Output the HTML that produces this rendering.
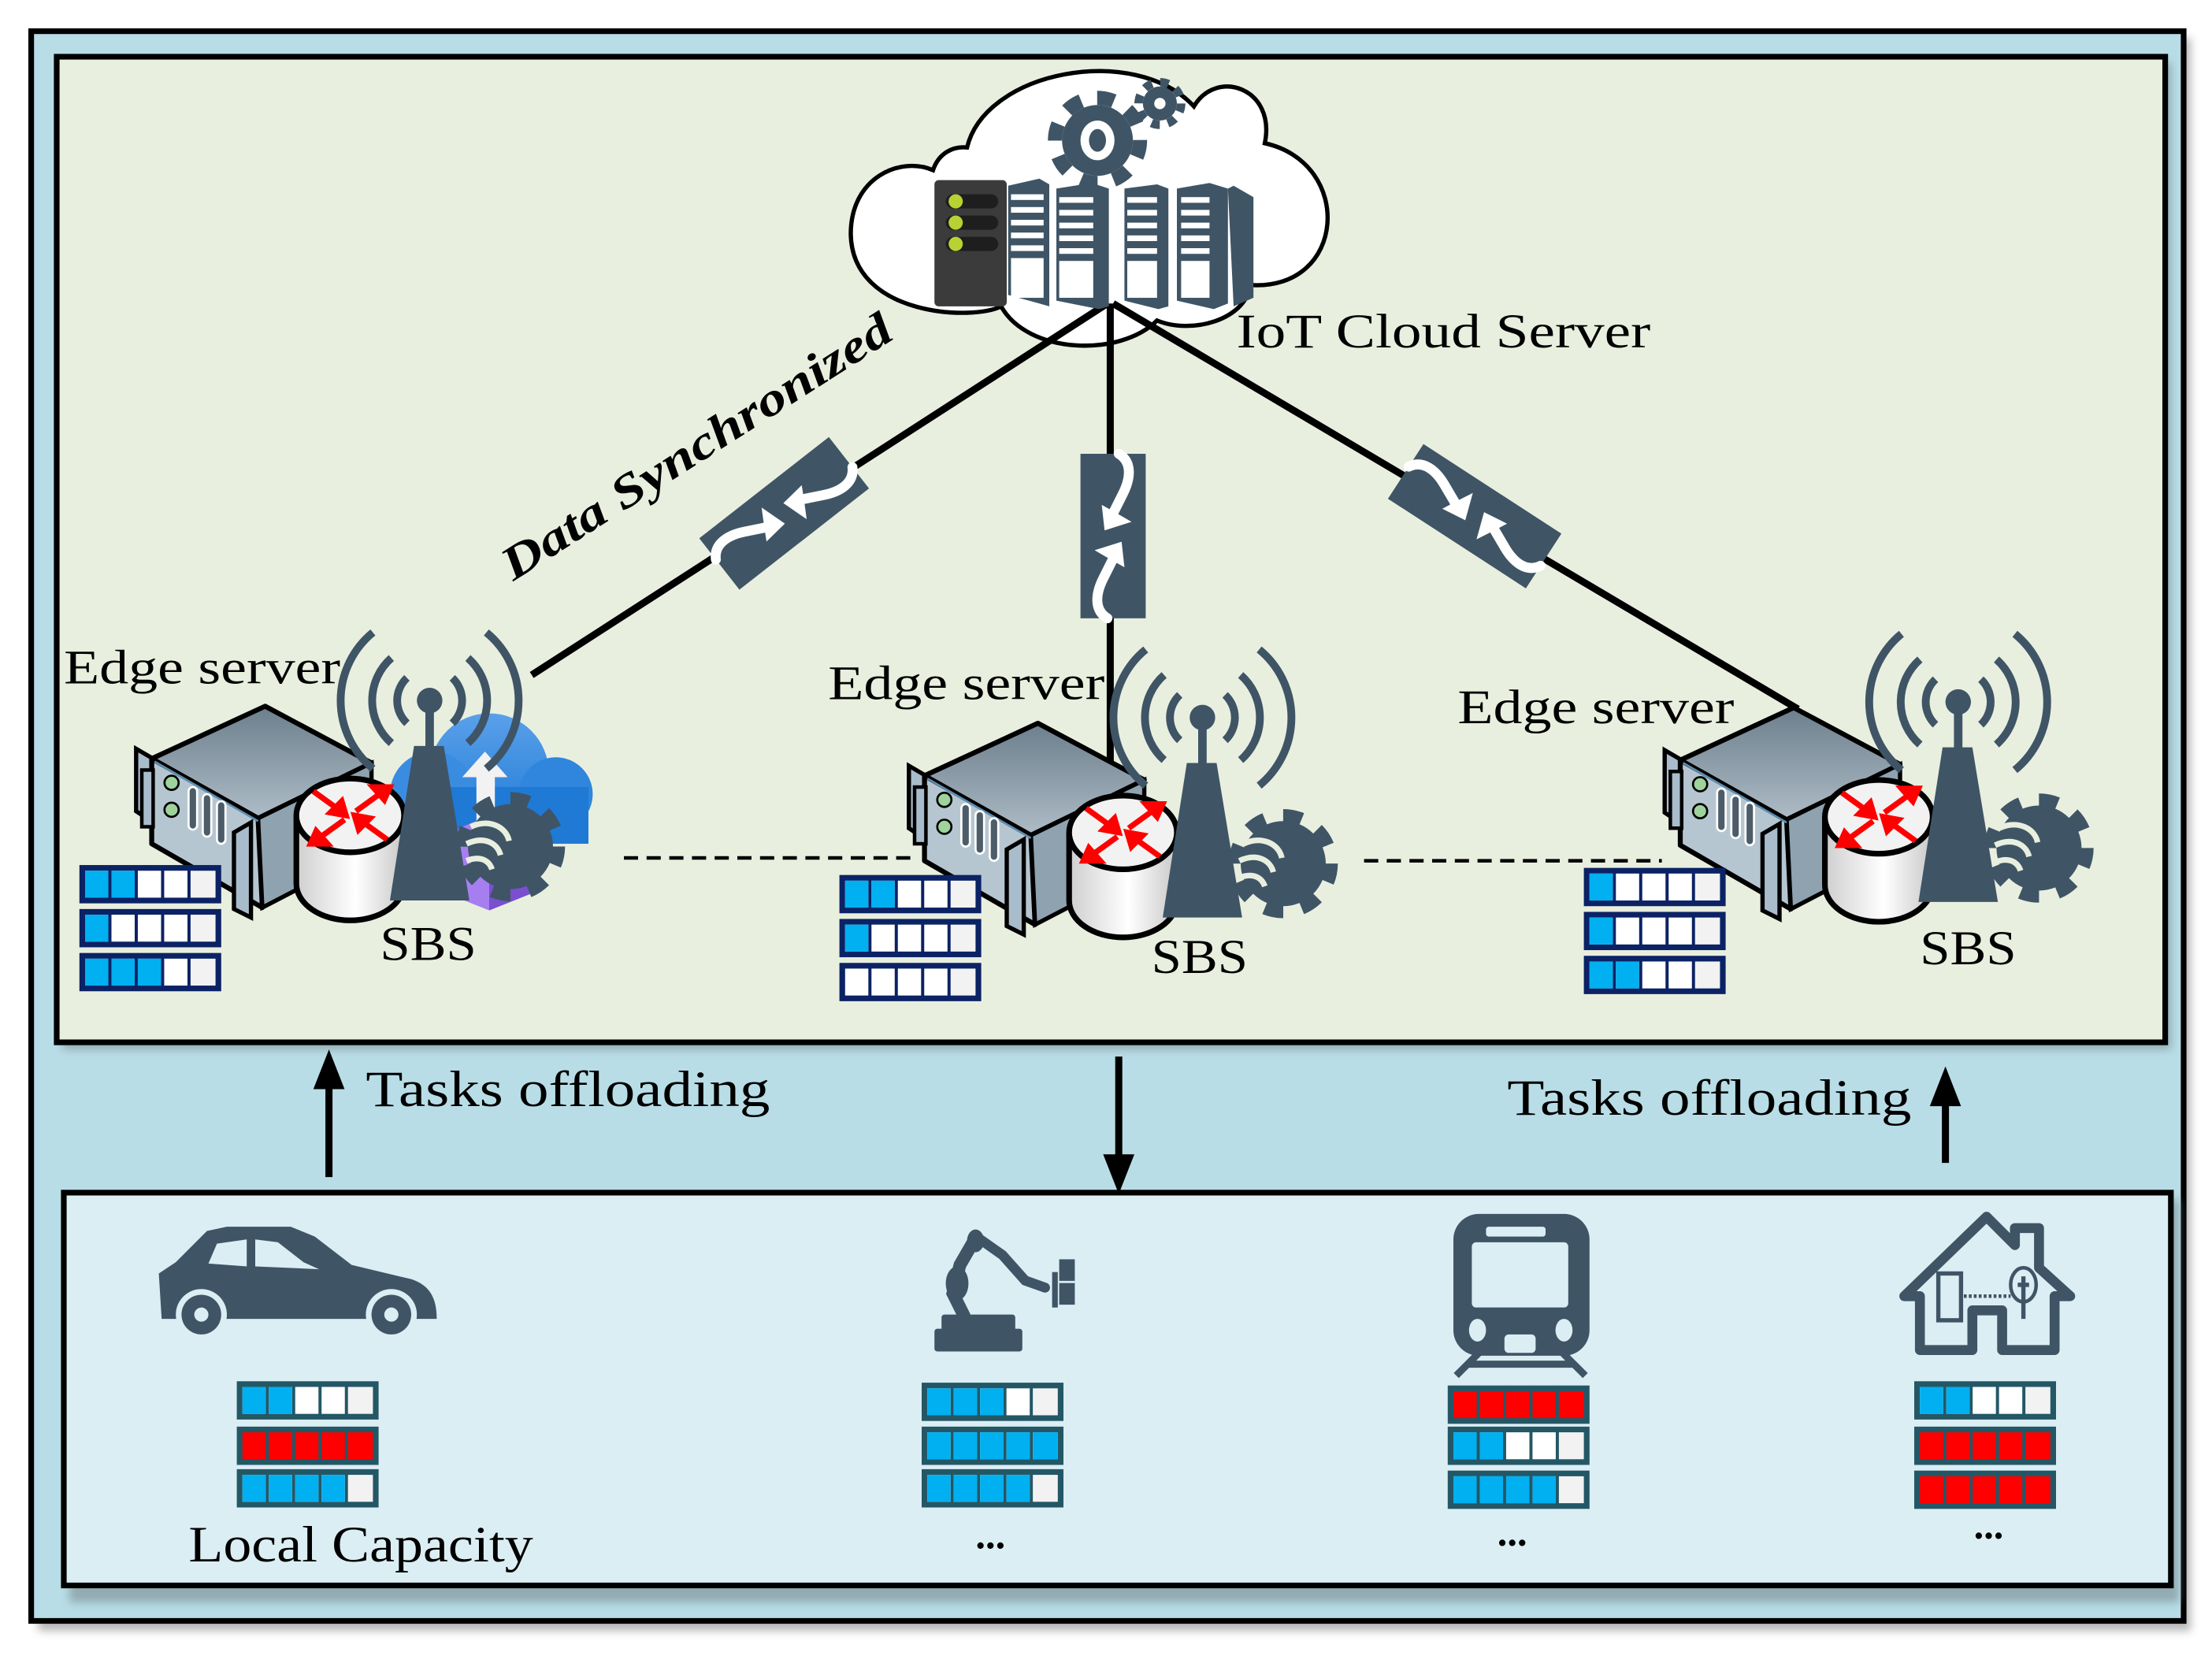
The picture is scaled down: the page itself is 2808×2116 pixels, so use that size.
<!DOCTYPE html>
<html><head><meta charset="utf-8"><style>
html,body{margin:0;padding:0;background:#fff;}
svg{display:block;}
text{font-family:"Liberation Serif",serif;fill:#000;}
</style></head><body>
<svg width="2808" height="2116" viewBox="0 0 1560 1175.5" preserveAspectRatio="none" xmlns="http://www.w3.org/2000/svg">
<defs>
<filter id="sh" x="-5%" y="-5%" width="110%" height="115%"><feGaussianBlur stdDeviation="3"/></filter>
<linearGradient id="topf" x1="0" y1="0" x2="0" y2="1"><stop offset="0" stop-color="#6c7f8c"/><stop offset="1" stop-color="#aebcc6"/></linearGradient>
<linearGradient id="cyl" x1="0" y1="0" x2="1" y2="0"><stop offset="0" stop-color="#cfcfcf"/><stop offset=".55" stop-color="#ffffff"/><stop offset="1" stop-color="#c8c8c8"/></linearGradient>
<linearGradient id="bcl" x1="0" y1="0" x2="0" y2="1"><stop offset="0" stop-color="#5aa0ea"/><stop offset="1" stop-color="#1f7ad6"/></linearGradient>
<g id="q0"><rect width="100" height="27" fill="currentColor"/><rect x="4" y="4" width="16.4" height="19" fill="#fff"/><rect x="22.6" y="4" width="16.4" height="19" fill="#fff"/><rect x="41.2" y="4" width="16.4" height="19" fill="#fff"/><rect x="59.8" y="4" width="16.4" height="19" fill="#fff"/><rect x="78.4" y="4" width="17.6" height="19" fill="#f2f2f2"/></g>
<g id="q1"><use href="#q0"/><rect x="4" y="4" width="16.4" height="19" fill="#00b0f0"/></g>
<g id="q2"><use href="#q1"/><rect x="22.6" y="4" width="16.4" height="19" fill="#00b0f0"/></g>
<g id="q3"><use href="#q2"/><rect x="41.2" y="4" width="16.4" height="19" fill="#00b0f0"/></g>
<g id="q4"><use href="#q3"/><rect x="59.8" y="4" width="16.4" height="19" fill="#00b0f0"/></g>
<g id="q5"><use href="#q4"/><rect x="78.4" y="4" width="17.6" height="19" fill="#00b0f0"/></g>
<g id="qr"><rect width="100" height="27" fill="currentColor"/><rect x="4" y="4" width="16.4" height="19" fill="#f00"/><rect x="22.6" y="4" width="16.4" height="19" fill="#f00"/><rect x="41.2" y="4" width="16.4" height="19" fill="#f00"/><rect x="59.8" y="4" width="16.4" height="19" fill="#f00"/><rect x="78.4" y="4" width="17.6" height="19" fill="#f00"/></g>

<g id="conn">
<rect x="-58" y="-23" width="116" height="46" fill="#3f5566"/>
<path d="M-58,-4 C-52,-14 -40,-12 -30,-7 L-14,1" stroke="#fff" stroke-width="7" fill="none" stroke-linecap="round"/>
<polygon points="-4,6 -22,8 -17,-1 -10,-13" fill="#fff"/>
<path d="M58,4 C52,14 40,12 30,7 L14,-1" stroke="#fff" stroke-width="7" fill="none" stroke-linecap="round"/>
<polygon points="4,-6 22,-8 17,1 10,13" fill="#fff"/>
</g>

<g id="edge">
<polygon points="-151,-47 -139,-40 -139,5 -151,-3" fill="#a9bccb" stroke="#000" stroke-width="3"/>
<polygon points="-140,-40 -60,-77 15,-37 -65,2" fill="url(#topf)" stroke="#000" stroke-width="3.5" stroke-linejoin="round"/>
<polygon points="-140,-40 -65,2 -62,65 -140,20" fill="#b6c6d1" stroke="#000" stroke-width="3.5" stroke-linejoin="round"/>
<polygon points="-65,2 15,-37 15,25 -62,65" fill="#8ea2af" stroke="#000" stroke-width="3"/>
<line x1="-138" y1="-38" x2="-65" y2="4" stroke="#5e8eb0" stroke-width="1.5"/>
<rect x="-147" y="-32" width="8" height="40" fill="#a9bccb" stroke="#000" stroke-width="2.5"/>
<circle cx="-126" cy="-23" r="5" fill="#9ed49c" stroke="#000" stroke-width="1.5"/>
<circle cx="-126" cy="-4" r="5" fill="#9ed49c" stroke="#000" stroke-width="1.5"/>
<rect x="-114" y="-20" width="6" height="30" rx="3" fill="#4c5c68" stroke="#fff" stroke-width="1.5"/>
<rect x="-104" y="-15" width="6" height="30" rx="3" fill="#4c5c68" stroke="#fff" stroke-width="1.5"/>
<rect x="-94" y="-10" width="6" height="30" rx="3" fill="#4c5c68" stroke="#fff" stroke-width="1.5"/>
<polygon points="-82,12 -70,5 -70,72 -82,66" fill="#a9bccb" stroke="#000" stroke-width="3"/>
<rect x="-38" y="0" width="76" height="48" fill="url(#cyl)"/>
<path d="M-38,0 L-38,48 A38,26 0 0 0 38,48 L38,0" fill="url(#cyl)" stroke="#000" stroke-width="4"/>
<ellipse cx="0" cy="0" rx="38" ry="26" fill="#f2f2f2" stroke="#000" stroke-width="4"/>
<g stroke="#f00" stroke-width="4" fill="#f00">
<line x1="-26" y1="-17" x2="-8" y2="-4"/><polygon points="-3,0 -14,-2 -6,-10"/>
<line x1="26" y1="17" x2="8" y2="4"/><polygon points="3,0 14,2 6,10"/>
<line x1="4" y1="-3" x2="22" y2="-16"/><polygon points="28,-20 16,-20 24,-11"/>
<line x1="-4" y1="3" x2="-22" y2="16"/><polygon points="-28,20 -16,20 -24,11"/>
</g>
<g fill="none" stroke="#3f5566" stroke-width="5.5" stroke-linecap="butt">
<path d="M72,-97 A22,22 0 0 1 72,-65"/><path d="M40,-97 A22,22 0 0 0 40,-65"/>
<path d="M83,-111 A40,40 0 0 1 83,-51"/><path d="M29,-111 A40,40 0 0 0 29,-51"/>
<path d="M96,-129 A62,62 0 0 1 96,-33"/><path d="M16,-129 A62,62 0 0 0 16,-33"/>
</g>
<rect x="53" y="-80" width="6" height="32" fill="#3f5566"/>
<circle cx="56" cy="-81" r="9" fill="#3f5566"/>
<polygon points="45,-49 66,-49 84,60 28,60" fill="#3f5566"/>
<circle cx="113" cy="22" r="30" fill="#3f5566"/>
<circle cx="113" cy="22" r="33" fill="none" stroke="#3f5566" stroke-width="11" stroke-dasharray="13 12.9"/>
<g fill="none" stroke="#e9efdf" stroke-width="4">
<path d="M85,8 C98,2 110,8 112,18"/><path d="M82,20 C95,14 104,20 106,28"/><path d="M82,32 C92,28 98,32 100,38"/>
</g>
</g>
</defs>

<rect x="27" y="27" width="1518" height="1123" fill="#888" filter="url(#sh)" opacity=".6"/>
<rect x="22" y="22" width="1518" height="1121" fill="#b8dde6" stroke="#000" stroke-width="4"/>
<rect x="44" y="44" width="1487" height="696" fill="#7a8a90" filter="url(#sh)" opacity=".6"/>
<rect x="40" y="40" width="1487" height="695" fill="#e9efdf" stroke="#000" stroke-width="4"/>
<rect x="49" y="846" width="1488" height="284" fill="#7a8a90" filter="url(#sh)" opacity=".6"/>
<rect x="45" y="841" width="1486" height="277" fill="#dbeef3" stroke="#000" stroke-width="4"/>

<g stroke="#000" stroke-width="2.5" stroke-dasharray="10 6">
<line x1="440" y1="605" x2="648" y2="605"/>
<line x1="962" y1="607" x2="1172" y2="607"/>
</g>

<path d="M682,104 C695,50 800,30 842,75 C858,48 900,62 892,101 C955,115 950,205 882,201 C878,226 840,236 816,226 C790,252 725,250 706,216 C688,226 601,224 600,165 C600,125 635,110 658,120 C662,108 672,103 682,104 Z" fill="#fff" stroke="#000" stroke-width="3"/>

<g stroke="#000" stroke-width="5">
<line x1="781" y1="214" x2="375" y2="476"/>
<line x1="783" y1="214" x2="783" y2="540"/>
<line x1="785" y1="214" x2="1268" y2="500"/>
</g>

<g fill="#3f5566">
<circle cx="774" cy="99" r="25"/>
<circle cx="774" cy="99" r="30" fill="none" stroke="#3f5566" stroke-width="10" stroke-dasharray="12 11.5"/>
<circle cx="818" cy="73" r="12"/>
<circle cx="818" cy="73" r="15" fill="none" stroke="#3f5566" stroke-width="6" stroke-dasharray="6 5.8"/>
</g>
<ellipse cx="774" cy="99" rx="12" ry="14" fill="#fff"/><ellipse cx="774" cy="99" rx="6" ry="8" fill="#3f5566"/>
<circle cx="818" cy="73" r="4" fill="#fff"/>
<g fill="#3f5566">
<polygon points="711,131 733,126 740,130 740,216 733,214 711,208"/>
<polygon points="745,133 770,129 782,133 782,216 775,218 745,212"/>
<polygon points="793,133 816,130 824,133 824,216 817,218 793,212"/>
<polygon points="830,133 853,129 866,133 866,214 856,218 830,212"/>
<polygon points="866,133 870,131 884,139 884,210 870,216"/>
</g>
<g fill="#fff">
<rect x="713" y="137" width="23" height="4"/><rect x="713" y="146" width="23" height="4"/><rect x="713" y="155" width="23" height="4"/><rect x="713" y="164" width="23" height="4"/><rect x="713" y="173" width="23" height="4"/><rect x="713" y="182" width="23" height="28"/>
<rect x="747" y="139" width="24" height="4"/><rect x="747" y="148" width="24" height="4"/><rect x="747" y="157" width="24" height="4"/><rect x="747" y="166" width="24" height="4"/><rect x="747" y="175" width="24" height="4"/><rect x="747" y="184" width="24" height="26"/>
<rect x="795" y="139" width="21" height="4"/><rect x="795" y="148" width="21" height="4"/><rect x="795" y="157" width="21" height="4"/><rect x="795" y="166" width="21" height="4"/><rect x="795" y="175" width="21" height="4"/><rect x="795" y="184" width="21" height="26"/>
<rect x="833" y="139" width="20" height="4"/><rect x="833" y="148" width="20" height="4"/><rect x="833" y="157" width="20" height="4"/><rect x="833" y="166" width="20" height="4"/><rect x="833" y="175" width="20" height="4"/><rect x="833" y="184" width="20" height="26"/>
</g>
<rect x="659" y="127" width="51" height="89" rx="3" fill="#3b3b3b"/>
<g fill="#1e1e1e"><rect x="667" y="137" width="37" height="10" rx="5"/><rect x="667" y="152" width="37" height="10" rx="5"/><rect x="667" y="167" width="37" height="10" rx="5"/></g>
<g fill="#b7d232"><ellipse cx="674" cy="142" rx="5" ry="5"/><ellipse cx="674" cy="157" rx="5" ry="5"/><ellipse cx="674" cy="172" rx="5" ry="5"/></g>

<use href="#conn" transform="translate(553,362) rotate(-38)"/>
<use href="#conn" transform="translate(785,378) rotate(90)"/>
<use href="#conn" transform="translate(1040,364) rotate(33)"/>

<g>
<circle cx="345" cy="545" r="42" fill="url(#bcl)"/>
<circle cx="392" cy="560" r="26" fill="#2f86dc"/>
<circle cx="305" cy="560" r="30" fill="#3a8ce0"/>
<rect x="300" y="555" width="115" height="40" fill="#1f7ad6"/>
<polygon points="342,530 358,548 349,548 349,590 336,590 336,548 326,548" fill="#f2f2f2"/>
<polygon points="310,590 345,575 375,588 375,630 345,642 310,628" fill="#a77ef0"/>
<polygon points="345,575 375,588 375,630 345,642" fill="#7a4fd0"/>
</g>
<use href="#edge" transform="translate(247,575)"/>
<use href="#edge" transform="translate(792,587)"/>
<use href="#edge" transform="translate(1325,576)"/>

<g color="#0b2265">
<use href="#q2" x="56" y="610"/><use href="#q1" x="56" y="641"/><use href="#q3" x="56" y="672"/>
<use href="#q2" x="592" y="617"/><use href="#q1" x="592" y="648"/><use href="#q0" x="592" y="679"/>
<use href="#q1" x="1117" y="612"/><use href="#q1" x="1117" y="643"/><use href="#q2" x="1117" y="674"/>
</g>
<g color="#245766">
<use href="#q2" x="167" y="974"/><use href="#qr" x="167" y="1006"/><use href="#q4" x="167" y="1036"/>
<use href="#q3" x="650" y="975"/><use href="#q5" x="650" y="1006"/><use href="#q4" x="650" y="1036"/>
<use href="#qr" x="1021" y="977"/><use href="#q2" x="1021" y="1006"/><use href="#q4" x="1021" y="1037"/>
<use href="#q2" x="1350" y="974"/><use href="#qr" x="1350" y="1006"/><use href="#qr" x="1350" y="1037"/>
</g>

<g fill="#000" stroke="#000">
<line x1="232" y1="830" x2="232" y2="762" stroke-width="5"/><polygon points="232,740 221,768 243,768" stroke="none"/>
<line x1="789" y1="745" x2="789" y2="818" stroke-width="5"/><polygon points="789,842 778,814 800,814" stroke="none"/>
<line x1="1372" y1="820" x2="1372" y2="775" stroke-width="5"/><polygon points="1372,752 1361,780 1383,780" stroke="none"/>
</g>

<g fill="#3f5566">
<path d="M114,930 L112,898 L124,890 L146,868 L160,865 L205,865 L222,872 L248,892 L290,902 C302,906 308,914 308,930 Z"/>
<polygon points="147,891 153,877 174,874 174,893" fill="#dbeef3"/>
<polygon points="180,874 196,876 214,890 225,895 180,893" fill="#dbeef3"/>
<circle cx="142" cy="927" r="18" fill="#dbeef3"/><circle cx="142" cy="927" r="14"/><circle cx="142" cy="927" r="5" fill="#dbeef3"/>
<circle cx="276" cy="927" r="18" fill="#dbeef3"/><circle cx="276" cy="927" r="14"/><circle cx="276" cy="927" r="5" fill="#dbeef3"/>
<rect x="659" y="937" width="62" height="16" rx="2"/>
<rect x="664" y="927" width="52" height="12" rx="2"/>
<path d="M680,928 L672,912 L677,892 L688,873" stroke="#3f5566" stroke-width="9" fill="none" stroke-linecap="round"/>
<path d="M690,873 L707,885 L723,903 L737,908" stroke="#3f5566" stroke-width="7" fill="none" stroke-linecap="round"/>
<ellipse cx="688" cy="875" rx="6" ry="8"/><ellipse cx="675" cy="905" rx="8" ry="12"/>
<rect x="742" y="897" width="4" height="25"/>
<rect x="747" y="888" width="11" height="32"/>
<line x1="747" y1="904" x2="758" y2="904" stroke="#dbeef3" stroke-width="1.5"/>
<rect x="1025" y="856" width="96" height="100" rx="18"/>
<rect x="1038" y="876" width="68" height="46" rx="3" fill="#dbeef3"/>
<rect x="1048" y="865" width="42" height="7" rx="2" fill="#dbeef3"/>
<ellipse cx="1042" cy="938" rx="6" ry="8" fill="#dbeef3"/><ellipse cx="1103" cy="938" rx="6" ry="8" fill="#dbeef3"/>
<rect x="1061" y="941" width="22" height="13" rx="3" fill="#dbeef3"/>
<path d="M1043,954 L1027,970 M1102,954 L1118,970 M1036,962 L1110,962" stroke="#3f5566" stroke-width="5" fill="none"/>
<path d="M1354,952 L1354,914 L1343,914 L1401,858 L1421,878 L1421,866 L1438,866 L1438,894 L1460,914 L1449,914 L1449,952 L1412,952 L1412,924 L1391,924 L1391,952 Z" fill="none" stroke="#3f5566" stroke-width="7" stroke-linejoin="round"/>
<rect x="1367" y="898" width="16" height="33" fill="none" stroke="#3f5566" stroke-width="3"/>
<line x1="1385" y1="914" x2="1418" y2="914" stroke="#3f5566" stroke-width="2.5" stroke-dasharray="2 1.5"/>
<ellipse cx="1427" cy="906" rx="9" ry="12" fill="none" stroke="#3f5566" stroke-width="2.5"/>
<path d="M1427,900 L1427,930 M1423,906 L1431,906" stroke="#3f5566" stroke-width="3"/>
</g>

<g font-size="34">
<text x="45" y="482" textLength="195" lengthAdjust="spacingAndGlyphs">Edge server</text>
<text x="584" y="493" textLength="195" lengthAdjust="spacingAndGlyphs">Edge server</text>
<text x="1028" y="510" textLength="195" lengthAdjust="spacingAndGlyphs">Edge server</text>
<text x="268" y="677" textLength="68" lengthAdjust="spacingAndGlyphs">SBS</text>
<text x="812" y="686" textLength="68" lengthAdjust="spacingAndGlyphs">SBS</text>
<text x="1354" y="680" textLength="68" lengthAdjust="spacingAndGlyphs">SBS</text>
<text x="872" y="245" textLength="292" lengthAdjust="spacingAndGlyphs">IoT Cloud Server</text>
<text x="258" y="780" font-size="36" textLength="285" lengthAdjust="spacingAndGlyphs">Tasks offloading</text>
<text x="1063" y="786" font-size="36" textLength="285" lengthAdjust="spacingAndGlyphs">Tasks offloading</text>
<text x="133" y="1101" font-size="36" textLength="243" lengthAdjust="spacingAndGlyphs">Local Capacity</text>
</g>
<text x="362" y="410" font-size="33" font-weight="bold" font-style="italic" transform="rotate(-32.5 362 410)" textLength="320" lengthAdjust="spacingAndGlyphs">Data Synchronized</text>
<g font-size="28" font-weight="bold">
<text x="688" y="1092">...</text>
<text x="1056" y="1090">...</text>
<text x="1392" y="1085">...</text>
</g>
</svg>
</body></html>
